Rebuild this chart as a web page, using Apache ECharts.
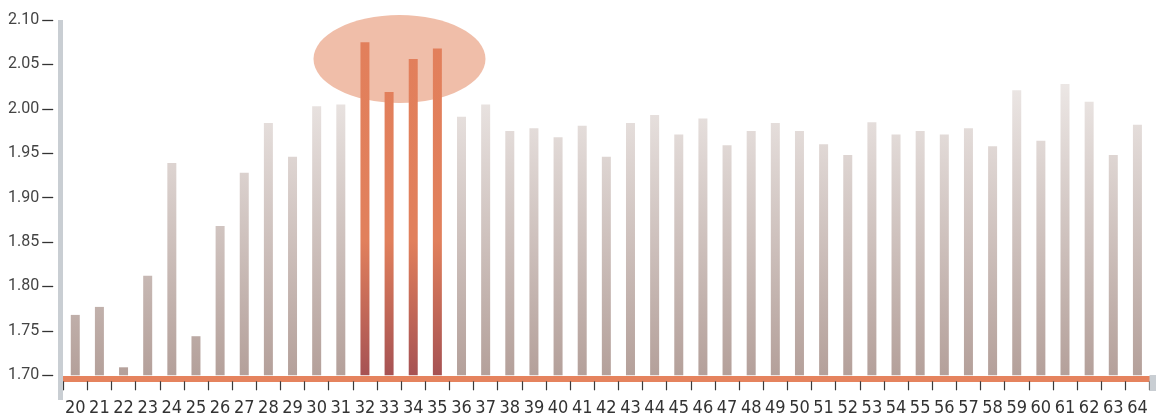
<!DOCTYPE html>
<html>
<head>
<meta charset="utf-8">
<style>
  html, body { margin: 0; padding: 0; background: #ffffff; }
  #chart { width: 1156px; height: 418px; }
</style>
<script src="https://cdn.jsdelivr.net/npm/echarts@6/dist/echarts.min.js"></script>
</head>
<body>
<div id="chart"></div>
<script>
// Age groups along the x axis
const categories = ['20','21','22','23','24','25','26','27','28','29','30','31','32','33','34','35','36','37','38','39','40','41','42','43','44','45','46','47','48','49','50','51','52','53','54','55','56','57','58','59','60','61','62','63','64'];

// Value per age
const values = [1.768, 1.777, 1.709, 1.812, 1.939, 1.744, 1.868, 1.928, 1.984, 1.946,
                2.003, 2.005, 2.075, 2.019, 2.056, 2.068, 1.991, 2.005, 1.975, 1.978,
                1.968, 1.981, 1.946, 1.984, 1.993, 1.971, 1.989, 1.959, 1.975, 1.984,
                1.975, 1.960, 1.948, 1.985, 1.971, 1.975, 1.971, 1.978, 1.958, 2.021,
                1.964, 2.028, 2.008, 1.948, 1.982];

// Ages drawn in the accent colour
const highlighted = ['32', '33', '34', '35'];

// Value axis ticks
const yTicks = { min: 1.70, max: 2.10, step: 0.05 };

const chart = echarts.init(document.getElementById('chart'), null, { renderer: 'canvas' });

const GRID_TOP = 20, GRID_BOTTOM = 42.7, GRID_LEFT = 63.2, GRID_RIGHT = 6.5;
const plotBottom = 418 - GRID_BOTTOM;

const greyFill = new echarts.graphic.LinearGradient(0, GRID_TOP, 0, plotBottom, [
  { offset: 0, color: '#f8f6f5' },
  { offset: 1, color: '#b4a09a' }
], true);
const accentFill = new echarts.graphic.LinearGradient(0, GRID_TOP, 0, plotBottom, [
  { offset: 0, color: '#e27f5b' },
  { offset: 0.62, color: '#e1805c' },
  { offset: 1, color: '#a65253' }
], true);

const barData = values.map((v, i) => ({
  value: v,
  itemStyle: { color: highlighted.includes(categories[i]) ? accentFill : greyFill }
}));

chart.setOption({
  animation: false,
  backgroundColor: '#ffffff',
  grid: { top: GRID_TOP, bottom: GRID_BOTTOM, left: GRID_LEFT, right: GRID_RIGHT, containLabel: false },
  xAxis: [
    {
      type: 'category',
      data: categories,
      offset: 3,
      axisLine: { show: true, lineStyle: { color: '#e5835e', width: 6 } },
      axisTick: { show: false },
      axisLabel: { show: false },
      splitLine: { show: false }
    },
    {
      type: 'category',
      data: categories,
      position: 'bottom',
      offset: 6,
      axisLine: { show: false },
      axisTick: { show: true, length: 9, interval: 0, lineStyle: { color: '#3a3a3a', width: 1.2 } },
      axisLabel: {
        show: true, interval: 0, margin: 18,
        fontFamily: '"Liberation Sans Narrow", "DejaVu Sans Condensed", sans-serif',
        fontSize: 18, color: '#333333'
      },
      splitLine: { show: false }
    }
  ],
  yAxis: {
    type: 'value',
    min: yTicks.min,
    max: yTicks.max,
    interval: yTicks.step,
    offset: 10,
    axisLine: { show: false },
    axisTick: { show: true, length: 11, lineStyle: { color: '#333333', width: 1.3 } },
    axisLabel: {
      margin: 14,
      fontFamily: 'Roboto, sans-serif',
      fontWeight: 400,
      fontSize: 16,
      color: '#444444',
      formatter: v => v.toFixed(2)
    },
    splitLine: { show: false }
  },
  series: [{
    type: 'bar',
    xAxisIndex: 0,
    data: barData,
    barWidth: 9,
    z: 2
  }],
  graphic: [
    // highlight halo behind the accent bars
    {
      type: 'ellipse', z: 0,
      shape: { cx: 399.5, cy: 59, rx: 86, ry: 44 },
      style: { fill: '#f0bea9' }
    },
    // vertical axis bar
    {
      type: 'rect', z: 10,
      shape: { x: 58, y: 20, width: 5, height: 380 },
      style: { fill: '#c9ced3' }
    },
    // end cap of the horizontal axis
    {
      type: 'rect', z: 10,
      shape: { x: 1149.5, y: 375, width: 7, height: 16 },
      style: { fill: '#c9ced3' }
    }
  ]
});
</script>
</body>
</html>
